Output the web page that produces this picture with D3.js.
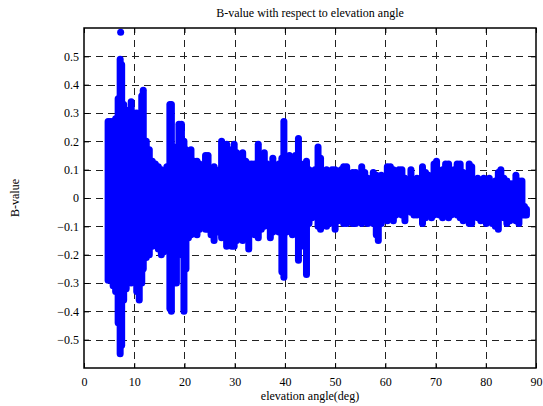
<!doctype html>
<html lang="en">
<head>
<meta charset="utf-8">
<script src="https://d3js.org/d3.v7.min.js"></script>
<style>
  body { margin: 0; background: #fff; }
  text { font-family: "Liberation Serif", "Times New Roman", serif; }
</style>
</head>
<body>
<svg id="chart" width="543" height="406"></svg>
<script>
// elevation angle (deg) and the B-value spread read at each angle
var elevation = [4.8,5.3,5.8,6.3,6.8,7.2,7.5,7.9,8.4,8.9,9.4,9.9,10.5,11.0,11.5,11.8,12.4,13.0,13.6,14.2,
  14.8,15.4,15.9,16.5,17.1,17.4,17.9,18.4,18.9,19.4,19.9,20.3,20.8,21.3,21.9,22.5,23.0,23.6,24.2,24.7,
  25.3,25.9,26.5,27.0,27.4,27.9,28.4,28.9,29.4,29.9,30.4,31.0,31.6,32.2,32.8,33.4,34.0,34.7,35.3,35.9,
  36.5,37.1,37.6,38.2,38.8,39.4,39.8,40.3,40.9,41.5,42.1,42.7,43.2,43.8,44.3,44.8,45.4,46.0,46.6,47.1,
  47.7,48.3,48.9,49.4,50.0,50.6,51.2,51.7,52.3,52.9,53.5,54.1,54.7,55.3,55.9,56.5,57.0,57.6,58.2,58.6,
  59.2,59.8,60.4,61.0,61.6,62.1,62.7,63.3,63.9,64.5,65.1,65.7,66.3,66.8,67.4,68.0,68.6,69.2,69.7,70.2,
  70.8,71.4,72.0,72.6,73.1,73.7,74.3,74.9,75.5,76.1,76.7,77.2,77.8,78.4,79.0,79.6,80.1,80.7,81.3,81.9,
  82.5,83.0,83.6,84.2,84.8,85.4,86.0,86.6,87.2,87.7,88.1];
var bMax = [0.27,0.27,0.27,0.28,0.35,0.49,0.47,0.33,0.30,0.31,0.34,0.30,0.30,0.28,0.36,0.38,0.20,0.17,0.13,0.12,
  0.11,0.10,0.09,0.11,0.33,0.33,0.18,0.15,0.26,0.26,0.20,0.17,0.16,0.17,0.13,0.13,0.12,0.10,0.15,0.15,
  0.10,0.11,0.09,0.10,0.20,0.15,0.19,0.14,0.17,0.19,0.16,0.15,0.16,0.13,0.12,0.12,0.12,0.19,0.13,0.16,
  0.12,0.11,0.14,0.10,0.12,0.14,0.27,0.12,0.15,0.12,0.15,0.21,0.12,0.11,0.13,0.10,0.09,0.10,0.18,0.14,
  0.09,0.10,0.09,0.10,0.10,0.09,0.10,0.11,0.11,0.07,0.09,0.09,0.07,0.11,0.09,0.07,0.06,0.09,0.08,0.07,
  0.08,0.07,0.11,0.11,0.10,0.06,0.10,0.10,0.07,0.06,0.10,0.06,0.07,0.06,0.11,0.09,0.08,0.06,0.12,0.13,
  0.08,0.10,0.12,0.12,0.08,0.10,0.12,0.12,0.09,0.07,0.12,0.11,0.06,0.07,0.06,0.07,0.05,0.07,0.05,0.06,
  0.09,0.10,0.07,0.06,0.05,0.05,0.08,0.06,0.06,-0.03,-0.04];
var bMin = [-0.29,-0.29,-0.31,-0.33,-0.44,-0.55,-0.52,-0.36,-0.32,-0.27,-0.30,-0.27,-0.33,-0.36,-0.30,-0.25,-0.21,-0.20,-0.17,-0.15,
  -0.18,-0.20,-0.19,-0.17,-0.39,-0.40,-0.30,-0.30,-0.17,-0.20,-0.40,-0.25,-0.14,-0.13,-0.12,-0.13,-0.11,-0.10,-0.11,-0.11,
  -0.13,-0.15,-0.12,-0.12,-0.14,-0.10,-0.17,-0.16,-0.17,-0.17,-0.15,-0.10,-0.15,-0.11,-0.18,-0.11,-0.13,-0.14,-0.11,-0.10,
  -0.09,-0.14,-0.12,-0.10,-0.12,-0.26,-0.28,-0.12,-0.11,-0.13,-0.10,-0.22,-0.17,-0.15,-0.27,-0.09,-0.07,-0.06,-0.10,-0.11,
  -0.07,-0.10,-0.09,-0.07,-0.11,-0.08,-0.07,-0.09,-0.09,-0.05,-0.09,-0.09,-0.07,-0.09,-0.05,-0.09,-0.08,-0.09,-0.13,-0.15,
  -0.09,-0.06,-0.08,-0.05,-0.08,-0.06,-0.05,-0.06,-0.08,-0.04,-0.05,-0.06,-0.06,-0.05,-0.09,-0.07,-0.05,-0.07,-0.06,-0.05,
  -0.06,-0.07,-0.05,-0.07,-0.06,-0.05,-0.06,-0.07,-0.08,-0.06,-0.09,-0.09,-0.06,-0.07,-0.08,-0.07,-0.09,-0.06,-0.09,-0.10,
  -0.11,-0.06,-0.07,-0.09,-0.08,-0.07,-0.08,-0.09,-0.06,-0.06,-0.06];
// lone point above the main spike
var outlier = [[7.3, 0.585]];

var xTicks = [0,10,20,30,40,50,60,70,80,90];
var yTicks = [-0.5,-0.4,-0.3,-0.2,-0.1,0,0.1,0.2,0.3,0.4,0.5];

var svg = d3.select('#chart');
var pLeft = 84, pRight = 536, pTop = 28, pBottom = 368;

var x = d3.scaleLinear().domain([0, 90]).range([pLeft, pRight]);
var y = d3.scaleLinear().domain([-0.6, 0.6]).range([pBottom, pTop]);

// grid
var grid = svg.append('g')
  .attr('stroke', '#222')
  .attr('stroke-width', 1)
  .attr('stroke-dasharray', '7,5')
  .attr('shape-rendering', 'crispEdges');
grid.selectAll('.gx').data(xTicks.slice(1, -1)).enter().append('line')
  .attr('x1', d => Math.round(x(d)) + 0.5).attr('x2', d => Math.round(x(d)) + 0.5)
  .attr('y1', pTop).attr('y2', pBottom);
grid.selectAll('.gy').data(yTicks).enter().append('line')
  .attr('x1', pLeft).attr('x2', pRight)
  .attr('y1', d => Math.round(y(d)) + 0.5).attr('y2', d => Math.round(y(d)) + 0.5);

// data: each angle drawn as a run of overlapping dots
var rows = elevation.map((e, i) => ({e: e, hi: bMax[i], lo: bMin[i]}));
svg.append('g').selectAll('line').data(rows).enter().append('line')
  .attr('x1', d => x(d.e)).attr('x2', d => x(d.e))
  .attr('y1', d => y(d.hi)).attr('y2', d => y(d.lo))
  .attr('stroke', '#0000ff')
  .attr('stroke-width', 7)
  .attr('stroke-linecap', 'round');
svg.append('g').selectAll('circle').data(outlier).enter().append('circle')
  .attr('cx', d => x(d[0])).attr('cy', d => y(d[1])).attr('r', 3.5)
  .attr('fill', '#0000ff');

// axes
var xAxis = svg.append('g').attr('transform', 'translate(0,' + pBottom + ')')
  .call(d3.axisBottom(x).tickValues(xTicks).tickSizeInner(-5).tickSizeOuter(0).tickPadding(9));
var xAxisTop = svg.append('g').attr('transform', 'translate(0,' + pTop + ')')
  .call(d3.axisTop(x).tickValues(xTicks).tickSizeInner(-5).tickSizeOuter(0).tickFormat(''));
var yAxis = svg.append('g').attr('transform', 'translate(' + pLeft + ',0)')
  .call(d3.axisLeft(y).tickValues(yTicks).tickSizeInner(-5).tickSizeOuter(0).tickPadding(5)
    .tickFormat(d => d === 0 ? '0' : d3.format('.1f')(d)));
var yAxisRight = svg.append('g').attr('transform', 'translate(' + pRight + ',0)')
  .call(d3.axisRight(y).tickValues(yTicks).tickSizeInner(-5).tickSizeOuter(0).tickFormat(''));

[xAxis, xAxisTop, yAxis, yAxisRight].forEach(function(a) {
  a.select('.domain').remove();
  a.selectAll('line').attr('stroke', '#000');
  a.selectAll('text').attr('font-size', 12).attr('fill', '#000')
    .style('font-family', '"Liberation Serif", serif');
});

svg.append('rect')
  .attr('x', pLeft).attr('y', pTop)
  .attr('width', pRight - pLeft).attr('height', pBottom - pTop)
  .attr('fill', 'none').attr('stroke', '#000').attr('stroke-width', 1.5);

svg.append('text')
  .attr('x', (pLeft + pRight) / 2).attr('y', 17)
  .attr('text-anchor', 'middle').attr('font-size', 12)
  .text('B-value with respect to elevation angle');
svg.append('text')
  .attr('x', (pLeft + pRight) / 2).attr('y', 400)
  .attr('text-anchor', 'middle').attr('font-size', 12)
  .text('elevation angle(deg)');
svg.append('text')
  .attr('transform', 'translate(19,' + (pTop + pBottom) / 2 + ') rotate(-90)')
  .attr('text-anchor', 'middle').attr('font-size', 12)
  .text('B-value');
</script>
</body>
</html>
